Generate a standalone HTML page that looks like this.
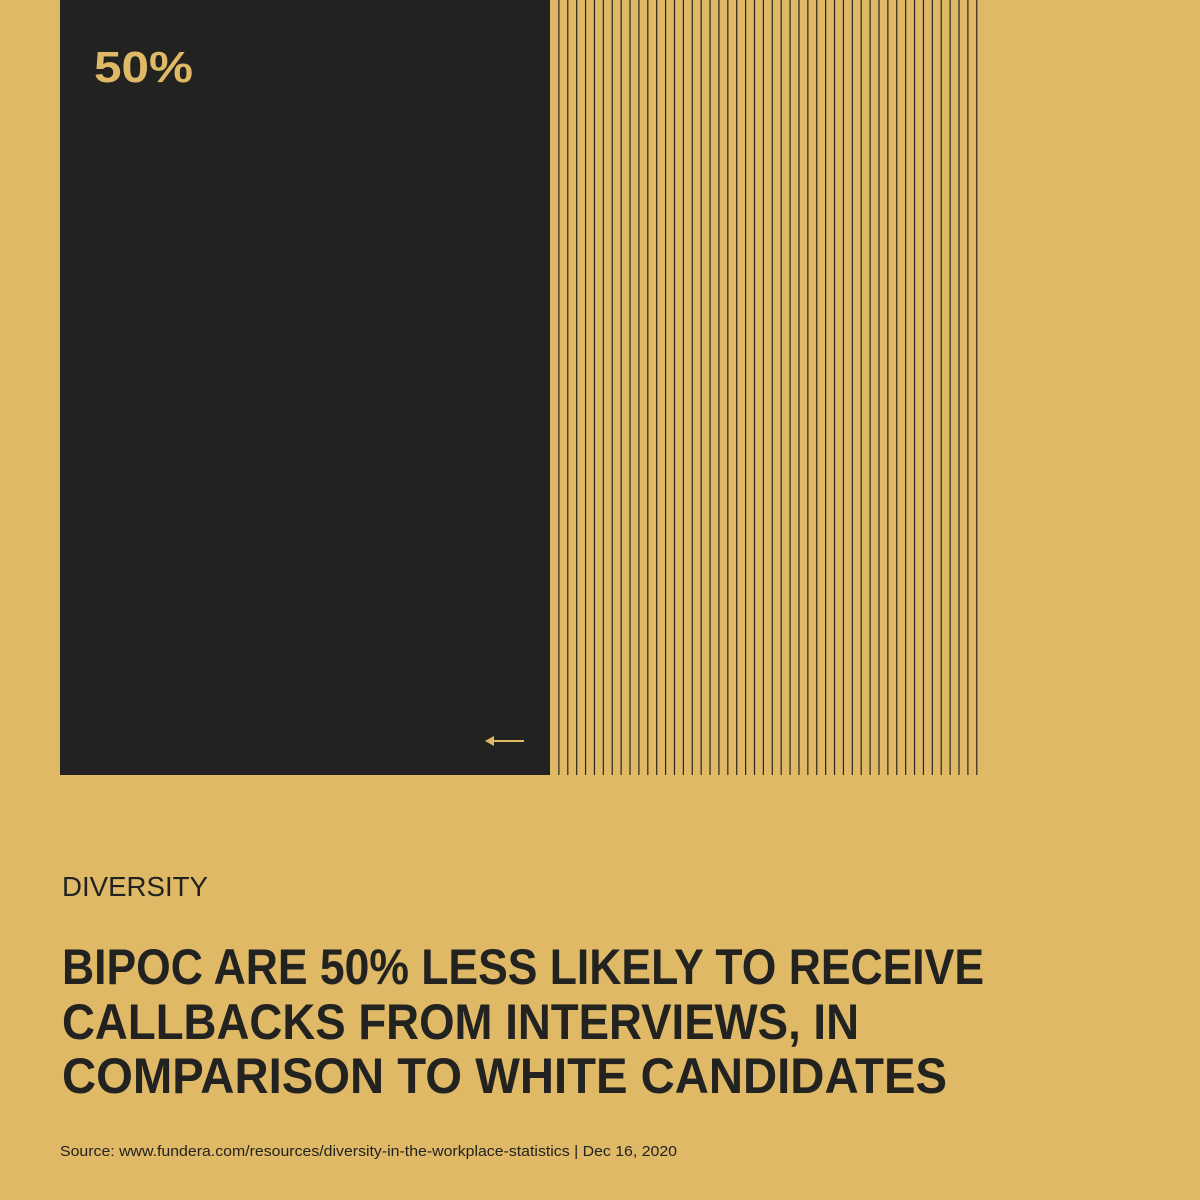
<!DOCTYPE html>
<html><head><meta charset="utf-8"><style>
html,body{margin:0;padding:0;background:#dfb966;}
svg{display:block;font-family:"Liberation Sans",sans-serif;}
</style></head><body>
<svg id="chart" width="1200" height="1200" viewBox="0 0 1200 1200">
<rect x="0" y="0" width="1200" height="1200" fill="#dfb966"/>
<g id="marks"></g>
<text x="94" y="82" font-size="44" font-weight="bold" fill="#dfb966" textLength="99" lengthAdjust="spacingAndGlyphs">50%</text>
<g>
<line x1="490" y1="741" x2="524" y2="741" stroke="#dfb966" stroke-width="2"/>
<polygon points="485,741 494,736 494,746" fill="#dfb966"/>
</g>
<text x="62" y="896" font-size="28" fill="#222220" textLength="146" lengthAdjust="spacingAndGlyphs">DIVERSITY</text>
<g font-size="50" font-weight="bold" fill="#222220">
<text x="62" y="984" textLength="922" lengthAdjust="spacingAndGlyphs">BIPOC ARE 50% LESS LIKELY TO RECEIVE</text>
<text x="62" y="1039" textLength="797" lengthAdjust="spacingAndGlyphs">CALLBACKS FROM INTERVIEWS, IN</text>
<text x="62" y="1093" textLength="885" lengthAdjust="spacingAndGlyphs">COMPARISON TO WHITE CANDIDATES</text>
</g>
<text x="60" y="1156" font-size="15" fill="#222220" textLength="617" lengthAdjust="spacingAndGlyphs">Source: www.fundera.com/resources/diversity-in-the-workplace-statistics | Dec 16, 2020</text>
</svg>
<script>
const categories = ["BIPOC", "White"];
const values = [50, 100];
const lineCount = [48];
(function(){
const NS = "http://www.w3.org/2000/svg";
const g = document.getElementById("marks");
const x0 = 60, barTop = 0, barBottom = 775;
function xScale(v){ return x0 + v * 9.8; }
const bar = document.createElementNS(NS, "rect");
bar.setAttribute("x", x0);
bar.setAttribute("y", barTop);
bar.setAttribute("width", xScale(values[0]) - x0);
bar.setAttribute("height", barBottom - barTop);
bar.setAttribute("fill", "#222220");


g.appendChild(bar);
const start = xScale(values[0]);
const end = start + (xScale(values[1]) - xScale(values[0])) * 0.871;
const n = lineCount[0];
const step = (end - start) / n;
for (let i = 1; i <= n; i++) {
  const l = document.createElementNS(NS, "line");
  const x = start + step * i;
  l.setAttribute("x1", x); l.setAttribute("x2", x);
  l.setAttribute("y1", barTop); l.setAttribute("y2", barBottom);
  l.setAttribute("stroke", "#2a2720");
  l.setAttribute("stroke-width", "1.2");
  
  
  g.appendChild(l);
}
})();
</script>
</body></html>
